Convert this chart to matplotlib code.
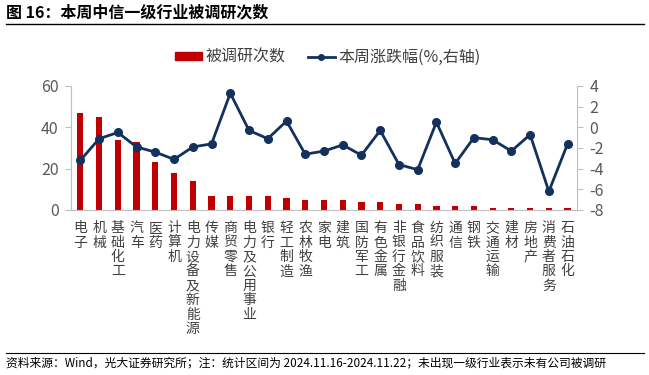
import matplotlib
matplotlib.use("Agg")
import matplotlib.pyplot as plt
from matplotlib.lines import Line2D
import numpy as np

plt.rcParams['font.family'] = ['Noto Sans CJK SC', 'DejaVu Sans']
plt.rcParams['axes.unicode_minus'] = False

# data
industries = ["电子", "机械", "基础化工", "汽车", "医药", "计算机", "电力设备及新能源",
              "传媒", "商贸零售", "电力及公用事业", "银行", "轻工制造", "农林牧渔", "家电",
              "建筑", "国防军工", "有色金属", "非银行金融", "食品饮料", "纺织服装", "通信",
              "钢铁", "交通运输", "建材", "房地产", "消费者服务", "石油石化"]
survey_counts = [47, 45, 34, 33, 23, 18, 14, 7, 7, 7, 7, 6, 5, 5,
                 5, 4, 4, 3, 3, 2, 2, 2, 1, 1, 1, 1, 1]
weekly_change = [-3.2, -1.1, -0.5, -1.9, -2.4, -3.1, -1.9, -1.6, 3.3, -0.3, -1.1, 0.6, -2.6, -2.3,
                 -1.7, -2.7, -0.3, -3.6, -4.1, 0.5, -3.5, -1.0, -1.2, -2.3, -0.7, -6.2, -1.6]
left_ticks = [0, 20, 40, 60]
right_ticks = [-8, -6, -4, -2, 0, 2, 4]

bar_color = "#C00000"
line_color = "#13315C"
grey = "#595959"

fig = plt.figure(figsize=(6.49, 3.75), dpi=100)
ax = fig.add_axes([0.1094, 0.44, 0.7796, 0.3307])
ax2 = ax.twinx()

x = np.arange(len(industries))
ax.bar(x, survey_counts, width=0.33, color=bar_color, zorder=2)
ax2.plot(x, weekly_change, color=line_color, lw=2, marker="o", ms=5.5, zorder=3)

ax.set_xlim(-0.5, len(industries) - 0.5)
ax.set_ylim(0, 60)
ax.set_yticks(left_ticks)
ax2.set_ylim(-8, 4)
ax2.set_yticks(right_ticks)
ax2.set_yticklabels([str(t) for t in right_ticks])

ax.set_xticks(x)
ax.set_xticklabels(["\n".join(s) for s in industries], fontsize=10, color="#404040",
                   linespacing=1.04, va="top")
ax.tick_params(axis="x", length=0, pad=8)
ax.tick_params(axis="y", colors=grey, labelsize=11.5, length=4, color="#BFBFBF", pad=5)
ax2.tick_params(axis="y", colors=grey, labelsize=11.5, length=4, color="#BFBFBF", pad=5)

for a in (ax, ax2):
    a.spines["top"].set_visible(False)
    for s in ("left", "right", "bottom"):
        a.spines[s].set_color("#BFBFBF")
ax.spines["right"].set_visible(False)
ax2.spines["left"].set_visible(False)
ax2.spines["bottom"].set_visible(False)

# legend
handles = [plt.Rectangle((0, 0), 1, 1, color=bar_color),
           Line2D([0], [0], color=line_color, lw=2, marker="o", ms=4)]
fig.legend(handles, ["被调研次数", "本周涨跌幅(%,右轴)"], loc="center",
           bbox_to_anchor=(0.505, 0.848), ncol=2, frameon=False, fontsize=11.5,
           labelcolor="#404040", handlelength=1.7, handleheight=0.42,
           columnspacing=1.4, handletextpad=0.2)

# title and footer
fig.text(0.01, 0.967, "图 16：本周中信一级行业被调研次数", fontsize=11.5,
         fontweight="bold", va="center", ha="left")
fig.add_artist(Line2D([0.009, 0.992], [0.936, 0.936], color="black", lw=1))
fig.add_artist(Line2D([0.009, 0.992], [0.059, 0.059], color="black", lw=0.8))
fig.text(0.009, 0.032, "资料来源：Wind，光大证券研究所；注：统计区间为 2024.11.16-2024.11.22；未出现一级行业表示未有公司被调研",
         fontsize=8.5, va="center", ha="left")

fig.savefig("out.png", dpi=100)
